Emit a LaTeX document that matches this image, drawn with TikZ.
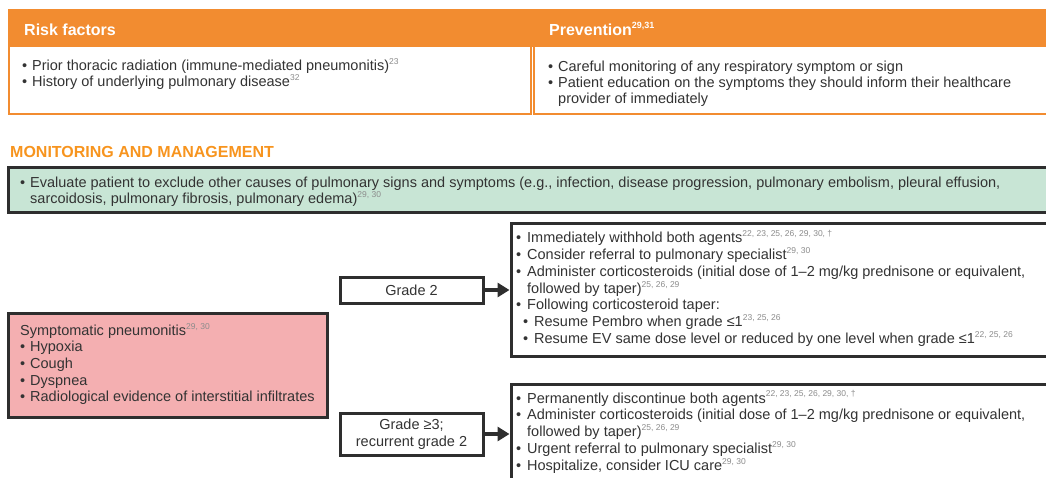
\documentclass[tikz,border=0pt]{standalone}
\usepackage{fontspec}
\setmainfont{Liberation Sans}
\usepackage{graphicx}
\usetikzlibrary{arrows.meta,fit}
\definecolor{orng}{HTML}{F28C30}
\definecolor{orngtxt}{HTML}{F7941E}
\definecolor{txt}{HTML}{333333}
\definecolor{refg}{HTML}{8C8C8C}
\definecolor{grn}{HTML}{C8E5D5}
\definecolor{pnk}{HTML}{F4AFB1}
\definecolor{bord}{HTML}{2E2E2E}
\newcommand\rf[1]{\raisebox{0.42em}[0pt][0pt]{\fontsize{8.5}{8.5}\selectfont\color{refg}#1}}
\newcommand\rfw[1]{\raisebox{0.42em}[0pt][0pt]{\fontsize{9}{9}\selectfont\color{white}#1}}
\newcommand\bl{\makebox[10pt][l]{•}}
\newcommand\blr{\makebox[11pt][l]{•}}
\newcommand\ind{\hspace*{10pt}}
\newcommand\indr{\hspace*{11pt}}
\begin{document}
\begin{tikzpicture}[x=1pt,y=-1pt,
  body/.style={font=\fontsize{14.5}{16.9}\selectfont, text=txt, align=left, inner sep=0pt, anchor=north west},
  hdr/.style={font=\fontsize{16}{19}\selectfont\bfseries, text=white, inner sep=0pt, anchor=west},
  obox/.style={draw=orng, line width=2pt, fill=white, inner sep=0pt},
  ohead/.style={fill=orng, inner sep=0pt},
  dbox/.style={draw=bord, line width=3pt, inner sep=0pt},
  gradetext/.style={font=\fontsize{14.5}{17}\selectfont, text=txt, align=center, inner sep=0pt},
  arr/.style={draw=bord, line width=3.2pt, -{Triangle[length=12pt,width=14pt]}}
]
\useasboundingbox (0,0) rectangle (1046,477);

% top boxes
\node[obox, fit={(9,10) (531,114)}] (rfbox) {};
\node[obox, fit={(534,10) (1052,114)}] (prbox) {};
\node[ohead, fit={(8,9) (1052,47)}] (head) {};
\node[hdr] (rfhd) at (24,29.5) {Risk factors};
\node[hdr] (prhd) at (549,29.5) {Prevention\rfw{29,31}};
\node[body, font=\fontsize{14.5}{16}\selectfont] (rflist) at (22,60.1)
  {\bl Prior thoracic radiation (immune-mediated pneumonitis)\rf{23}\\
   \bl History of underlying pulmonary disease\rf{32}};
\node[body, font=\fontsize{14.5}{16}\selectfont] (prlist) at (548,60.3)
  {\bl Careful monitoring of any respiratory symptom or sign\\
   \bl Patient education on the symptoms they should inform their healthcare\\
   \ind provider of immediately};

% monitoring
\node[font=\fontsize{16}{19}\selectfont\bfseries, text=orngtxt, inner sep=0pt, anchor=west] (mon) at (10,151.7) {MONITORING AND MANAGEMENT};
\node[dbox, fill=grn, fit={(8,167) (1052,212.5)}] (eval) {};
\node[body, font=\fontsize{14.5}{16}\selectfont] (evaltext) at (20,176.9)
  {\bl Evaluate patient to exclude other causes of pulmonary signs and symptoms (e.g., infection, disease progression, pulmonary embolism, pleural effusion,\\
   \ind sarcoidosis, pulmonary fibrosis, pulmonary edema)\rf{29, 30}};

% red box
\node[dbox, fill=pnk, fit={(8,313.5) (327,417.5)}] (sympt) {};
\node[body, font=\fontsize{14.5}{16.6}\selectfont] (sympttext) at (20,324.6)
  {Symptomatic pneumonitis\rf{29, 30}\\
   \bl Hypoxia\\
   \bl Cough\\
   \bl Dyspnea\\
   \bl Radiological evidence of interstitial infiltrates};

% grade 2
\node[dbox, fill=white, fit={(340,277) (483,303)}] (g2) {};
\node[gradetext] (g2t) at (g2.center) {Grade 2};
\node[dbox, fill=white, fit={(511,223) (1052,356)}] (g2r) {};
\node[body, font=\fontsize{14.5}{16.8}\selectfont] (g2rt) at (516,232)
  {\blr Immediately withhold both agents\rf{22, 23, 25, 26, 29, 30, †}\\
   \blr Consider referral to pulmonary specialist\rf{29, 30}\\
   \blr Administer corticosteroids (initial dose of 1–2 mg/kg prednisone or equivalent,\\
   \indr followed by taper)\rf{25, 26, 29}\\
   \blr Following corticosteroid taper:\\
   \hspace*{7pt}\blr Resume Pembro when grade ≤1\rf{23, 25, 26}\\
   \hspace*{7pt}\blr Resume EV same dose level or reduced by one level when grade ≤1\rf{22, 25, 26}};
\draw[arr] (g2.east) -- (g2.east -| g2r.west);

% grade 3
\node[dbox, fill=white, fit={(340,413) (483,455)}] (g3) {};
\node[gradetext] (g3t) at (g3.center) {Grade ≥3;\\ recurrent grade 2};
\node[dbox, fill=white, fit={(511,384) (1052,500)}] (g3r) {};
\node[body, font=\fontsize{14.5}{16.9}\selectfont] (g3rt) at (516,392.3)
  {\blr Permanently discontinue both agents\rf{22, 23, 25, 26, 29, 30, †}\\
   \blr Administer corticosteroids (initial dose of 1–2 mg/kg prednisone or equivalent,\\
   \indr followed by taper)\rf{25, 26, 29}\\
   \blr Urgent referral to pulmonary specialist\rf{29, 30}\\
   \blr Hospitalize, consider ICU care\rf{29, 30}};
\draw[arr] (g3.east) -- (g3.east -| g3r.west);
\end{tikzpicture}
\end{document}
